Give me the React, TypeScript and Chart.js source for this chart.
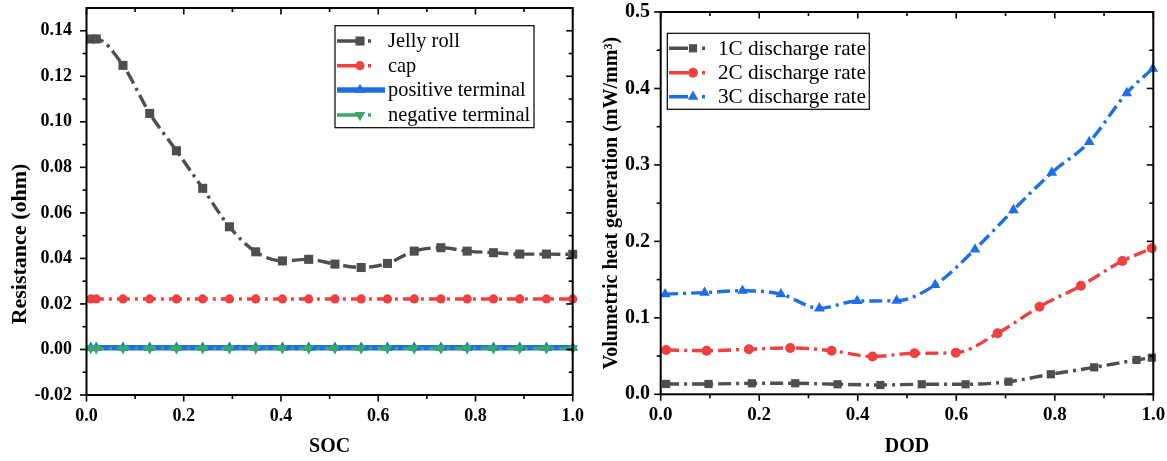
import React, { useEffect, useRef } from "react";
import { Chart, registerables } from "chart.js";
import { drawPoint } from "chart.js/helpers";

Chart.register(...registerables);

// ---------- Left panel data (Resistance vs SOC) ----------
const SOC = [0.009, 0.02, 0.075, 0.13, 0.185, 0.239, 0.294, 0.348, 0.403, 0.457, 0.511, 0.565, 0.619, 0.674, 0.729, 0.783, 0.837, 0.891, 0.946, 1.0];
const JELLY_ROLL = [0.1364, 0.1364, 0.1248, 0.1037, 0.0873, 0.0708, 0.0539, 0.0429, 0.0389, 0.0396, 0.0375, 0.036, 0.0378, 0.0432, 0.0447, 0.0432, 0.0425, 0.0419, 0.0419, 0.0418];
const CAP = [0.0222, 0.0222, 0.0222, 0.0222, 0.0222, 0.0222, 0.0222, 0.0222, 0.0222, 0.0222, 0.0222, 0.0222, 0.0222, 0.0222, 0.0222, 0.0222, 0.0222, 0.0222, 0.0222, 0.0222];
const POSITIVE_TERMINAL = [0.0008, 0.0008, 0.0008, 0.0008, 0.0008, 0.0008, 0.0008, 0.0008, 0.0008, 0.0008, 0.0008, 0.0008, 0.0008, 0.0008, 0.0008, 0.0008, 0.0008, 0.0008, 0.0008, 0.0008];
const NEGATIVE_TERMINAL = [0.0005, 0.0005, 0.0005, 0.0005, 0.0005, 0.0005, 0.0005, 0.0005, 0.0005, 0.0005, 0.0005, 0.0005, 0.0005, 0.0005, 0.0005, 0.0005, 0.0005, 0.0005, 0.0005, 0.0005];
const SOC_TICKS = [0, 0.2, 0.4, 0.6, 0.8, 1.0];
const SOC_MINOR = [0.1, 0.3, 0.5, 0.7, 0.9];
const RES_TICKS = [-0.02, 0, 0.02, 0.04, 0.06, 0.08, 0.1, 0.12, 0.14];
const RES_MINOR = [-0.01, 0.01, 0.03, 0.05, 0.07, 0.09, 0.11, 0.13];
const LEFT_LABELS = ["Jelly roll", "cap", "positive terminal", "negative terminal"];

// ---------- Right panel data (Heat generation vs DOD) ----------
const DOD_1C = [0.011, 0.097, 0.185, 0.273, 0.359, 0.446, 0.53, 0.619, 0.706, 0.792, 0.88, 0.966, 0.997];
const HEAT_1C = [0.0135, 0.0135, 0.0144, 0.0144, 0.0131, 0.0122, 0.0131, 0.0131, 0.0165, 0.0262, 0.0353, 0.0449, 0.0479];
const DOD_2C = [0.011, 0.093, 0.179, 0.263, 0.347, 0.43, 0.515, 0.599, 0.684, 0.769, 0.853, 0.937, 0.997];
const HEAT_2C = [0.058, 0.057, 0.0589, 0.0606, 0.057, 0.0494, 0.0536, 0.0544, 0.0798, 0.1146, 0.142, 0.1743, 0.191];
const DOD_3C = [0.009, 0.089, 0.166, 0.244, 0.322, 0.399, 0.479, 0.557, 0.638, 0.716, 0.794, 0.87, 0.946, 0.999];
const HEAT_3C = [0.131, 0.133, 0.1355, 0.131, 0.1125, 0.122, 0.1224, 0.143, 0.1896, 0.241, 0.29, 0.33, 0.394, 0.426];
const DOD_TICKS = [0, 0.2, 0.4, 0.6, 0.8, 1.0];
const DOD_MINOR = [0.1, 0.3, 0.5, 0.7, 0.9];
const HEAT_TICKS = [0, 0.1, 0.2, 0.3, 0.4, 0.5];
const HEAT_MINOR = [0.05, 0.15, 0.25, 0.35, 0.45];
const RIGHT_LABELS = ["1C discharge rate", "2C discharge rate", "3C discharge rate"];

// ---------- Styles ----------
const FONT = "'Liberation Serif', 'Times New Roman', Times, serif";
const GRAY = "#4e4e4e";
const RED = "#ef4141";
const BLUE = "#1f6fe2";
const GREEN = "#3aa66c";
const DASHDOT = [13, 5, 3, 5];

type LegendItem = {
  label: string; color: string; dash: number[]; lineWidth: number;
  pointStyle: string; radius: number; rotation: number; x0: number; x1: number; mx: number;
};
type DecorCfg = {
  xMajor: number[]; xMinor: number[]; yMajor: number[]; yMinor: number[];
  yTitle?: { text: string; x: number; y: number; font: string };
  legend: { box: number[]; rows: number[]; textX: number; font: string; items: LegendItem[] };
};

function makeDecor(cfg: DecorCfg) {
  return {
    id: "decor",
    afterDraw(chart: any) {
      const { ctx, chartArea: a, scales } = chart;
      const xs = scales.x;
      const ys = scales.y;
      ctx.save();
      ctx.setLineDash([]);
      ctx.strokeStyle = "#000";
      ctx.lineWidth = 1.6;
      const seg = (x1: number, y1: number, x2: number, y2: number) => {
        ctx.beginPath();
        ctx.moveTo(x1, y1);
        ctx.lineTo(x2, y2);
        ctx.stroke();
      };
      const MAJ = 6.5;
      const MIN = 4;
      const xt = (vals: number[], len: number) => vals.forEach((v) => {
        const p = xs.getPixelForValue(v);
        seg(p, a.bottom, p, a.bottom + len);
        seg(p, a.top, p, a.top + len);
      });
      const yt = (vals: number[], len: number) => vals.forEach((v) => {
        const p = ys.getPixelForValue(v);
        seg(a.left - len, p, a.left, p);
        seg(a.right - len, p, a.right, p);
      });
      xt(cfg.xMajor, MAJ);
      xt(cfg.xMinor, MIN);
      yt(cfg.yMajor, MAJ);
      yt(cfg.yMinor, MIN);
      ctx.lineWidth = 2;
      ctx.strokeRect(a.left, a.top, a.right - a.left, a.bottom - a.top);

      if (cfg.yTitle) {
        ctx.save();
        ctx.translate(cfg.yTitle.x, cfg.yTitle.y);
        ctx.rotate(-Math.PI / 2);
        ctx.fillStyle = "#000";
        ctx.font = cfg.yTitle.font;
        ctx.textAlign = "center";
        ctx.textBaseline = "middle";
        ctx.fillText(cfg.yTitle.text, 0, 0);
        ctx.restore();
      }

      const lg = cfg.legend;
      const [bx0, by0, bx1, by1] = lg.box;
      ctx.fillStyle = "#fff";
      ctx.fillRect(bx0, by0, bx1 - bx0, by1 - by0);
      ctx.strokeStyle = "#000";
      ctx.lineWidth = 1.2;
      ctx.strokeRect(bx0, by0, bx1 - bx0, by1 - by0);
      lg.items.forEach((it, i) => {
        const y = lg.rows[i];
        ctx.save();
        ctx.strokeStyle = it.color;
        ctx.lineWidth = it.lineWidth;
        ctx.lineCap = "butt";
        ctx.setLineDash(it.dash);
        ctx.beginPath();
        ctx.moveTo(it.x0, y);
        ctx.lineTo(it.x1, y);
        ctx.stroke();
        ctx.restore();
        ctx.save();
        ctx.fillStyle = it.color;
        ctx.strokeStyle = it.color;
        drawPoint(ctx, { pointStyle: it.pointStyle as any, rotation: it.rotation, radius: it.radius, borderWidth: 0 }, it.mx, y);
        ctx.restore();
        ctx.fillStyle = "#000";
        ctx.font = lg.font;
        ctx.textAlign = "left";
        ctx.textBaseline = "middle";
        ctx.fillText(it.label, lg.textX, y + 1);
      });
      ctx.restore();
    },
  };
}

function series(label: string, xs: number[], ys: number[], color: string, style: string, radius: number, opts: any = {}) {
  return {
    label,
    data: xs.map((x, i) => ({ x, y: ys[i] })),
    borderColor: color,
    backgroundColor: color,
    borderWidth: 3.4,
    borderDash: DASHDOT,
    borderCapStyle: "butt",
    pointStyle: style,
    pointRadius: radius,
    pointHoverRadius: radius,
    pointBackgroundColor: color,
    pointBorderColor: color,
    pointBorderWidth: 0,
    cubicInterpolationMode: "monotone",
    clip: false,
    ...opts,
  };
}

function zeroPad(s: any) {
  s.paddingTop = 0;
  s.paddingBottom = 0;
  s.paddingLeft = 0;
  s.paddingRight = 0;
}

function axisCommon(size: number, pad: number, decimals: number, ticks: number[]) {
  return {
    type: "linear",
    afterBuildTicks: (s: any) => { s.ticks = ticks.map((v) => ({ value: v })); },
    grid: { display: false, drawTicks: false },
    border: { display: false },
    ticks: {
      padding: pad,
      color: "#000",
      autoSkip: false,
      maxRotation: 0,
      font: { family: FONT, size, weight: "bold" },
      callback: (v: any) => Number(v).toFixed(decimals),
    },
  };
}

function leftConfig(): any {
  return {
    type: "line",
    data: {
      datasets: [
        series(LEFT_LABELS[0], SOC, JELLY_ROLL, GRAY, "rect", 6.4, { order: 0 }),
        series(LEFT_LABELS[1], SOC, CAP, RED, "circle", 4.6, { order: 1 }),
        series(LEFT_LABELS[2], SOC, POSITIVE_TERMINAL, BLUE, "triangle", 6.2, { order: 3, borderWidth: 5.5, borderDash: [] }),
        series(LEFT_LABELS[3], SOC, NEGATIVE_TERMINAL, GREEN, "triangle", 6.2, { order: 2, rotation: 180 }),
      ],
    },
    options: {
      responsive: false,
      animation: false,
      layout: { padding: { top: 8, right: 12.3, bottom: 0, left: 0 } },
      plugins: { legend: { display: false }, tooltip: { enabled: false } },
      scales: {
        x: {
          ...axisCommon(18, 11, 1, SOC_TICKS),
          min: 0, max: 1,
          afterFit: (s: any) => { s.height = 66; zeroPad(s); },
          title: { display: true, text: "SOC", color: "#000", font: { family: FONT, size: 20, weight: "bold" }, padding: { top: 0, bottom: 2 } },
        },
        y: {
          ...axisCommon(18, 14.5, 2, RES_TICKS),
          min: -0.02, max: 0.15,
          afterFit: (s: any) => { s.width = 86.5; zeroPad(s); },
        },
      },
    },
    plugins: [
      makeDecor({
        xMajor: SOC_TICKS, xMinor: SOC_MINOR, yMajor: RES_TICKS, yMinor: RES_MINOR,
        yTitle: { text: "Resistance (ohm)", x: 20, y: 244, font: `bold 22px ${FONT}` },
        legend: {
          box: [335, 25.7, 534, 127.7],
          rows: [41, 65.7, 90, 115],
          textX: 388,
          font: `20.4px ${FONT}`,
          items: [
            { label: LEFT_LABELS[0], color: GRAY, dash: [20, 11, 3, 20], lineWidth: 3.4, pointStyle: "rect", radius: 6.4, rotation: 0, x0: 337, x1: 375, mx: 360 },
            { label: LEFT_LABELS[1], color: RED, dash: [20, 11, 3, 20], lineWidth: 3.4, pointStyle: "circle", radius: 4.6, rotation: 0, x0: 337, x1: 375, mx: 360 },
            { label: LEFT_LABELS[2], color: BLUE, dash: [], lineWidth: 5.5, pointStyle: "triangle", radius: 6.2, rotation: 0, x0: 337, x1: 385, mx: 360 },
            { label: LEFT_LABELS[3], color: GREEN, dash: [20, 11, 3, 20], lineWidth: 3.4, pointStyle: "triangle", radius: 6.2, rotation: 180, x0: 337, x1: 375, mx: 360 },
          ],
        },
      }),
    ],
  };
}

function rightConfig(): any {
  return {
    type: "line",
    data: {
      datasets: [
        series(RIGHT_LABELS[0], DOD_1C, HEAT_1C, GRAY, "rect", 5.8),
        series(RIGHT_LABELS[1], DOD_2C, HEAT_2C, RED, "circle", 5),
        series(RIGHT_LABELS[2], DOD_3C, HEAT_3C, BLUE, "triangle", 6.2),
      ],
    },
    options: {
      responsive: false,
      animation: false,
      layout: { padding: { top: 12, right: 13.7, bottom: 0, left: 0 } },
      plugins: { legend: { display: false }, tooltip: { enabled: false } },
      scales: {
        x: {
          ...axisCommon(19, 9, 1, DOD_TICKS),
          min: 0, max: 1,
          afterFit: (s: any) => { s.height = 66.7; zeroPad(s); },
          title: { display: true, text: "DOD", color: "#000", font: { family: FONT, size: 20, weight: "bold" }, padding: { top: 0, bottom: 2 } },
        },
        y: {
          ...axisCommon(20, 10.7, 1, HEAT_TICKS),
          min: 0, max: 0.5,
          afterFit: (s: any) => { s.width = 75.7; zeroPad(s); },
          title: { display: true, text: "Volumetric heat generation (mW/mm³)", color: "#000", font: { family: FONT, size: 20, weight: "bold" }, padding: { top: 15, bottom: 0 } },
        },
      },
    },
    plugins: [
      makeDecor({
        xMajor: DOD_TICKS, xMinor: DOD_MINOR, yMajor: HEAT_TICKS, yMinor: HEAT_MINOR,
        legend: {
          box: [82.3, 33.3, 284.3, 109.3],
          rows: [48.3, 72.7, 96.7],
          textX: 133,
          font: `21.2px ${FONT}`,
          items: [
            { label: RIGHT_LABELS[0], color: GRAY, dash: [19, 14, 3, 20], lineWidth: 3.4, pointStyle: "rect", radius: 5.8, rotation: 0, x0: 84, x1: 123, mx: 108 },
            { label: RIGHT_LABELS[1], color: RED, dash: [19, 14, 3, 20], lineWidth: 3.4, pointStyle: "circle", radius: 5, rotation: 0, x0: 84, x1: 123, mx: 108 },
            { label: RIGHT_LABELS[2], color: BLUE, dash: [19, 14, 3, 20], lineWidth: 3.4, pointStyle: "triangle", radius: 6.2, rotation: 0, x0: 84, x1: 123, mx: 108 },
          ],
        },
      }),
    ],
  };
}

export default function App() {
  const leftRef = useRef<HTMLCanvasElement>(null);
  const rightRef = useRef<HTMLCanvasElement>(null);
  useEffect(() => {
    const c1 = new Chart(leftRef.current as HTMLCanvasElement, leftConfig());
    const c2 = new Chart(rightRef.current as HTMLCanvasElement, rightConfig());
    return () => {
      c1.destroy();
      c2.destroy();
    };
  }, []);
  return (
    <div style={{ position: "absolute", left: 0, top: 0, width: 1167, height: 461, background: "#fff" }}>
      <canvas ref={leftRef} width={585} height={461} style={{ position: "absolute", left: 0, top: 0, width: 585, height: 461 }} />
      <canvas ref={rightRef} width={582} height={461} style={{ position: "absolute", left: 585, top: 0, width: 582, height: 461 }} />
    </div>
  );
}
